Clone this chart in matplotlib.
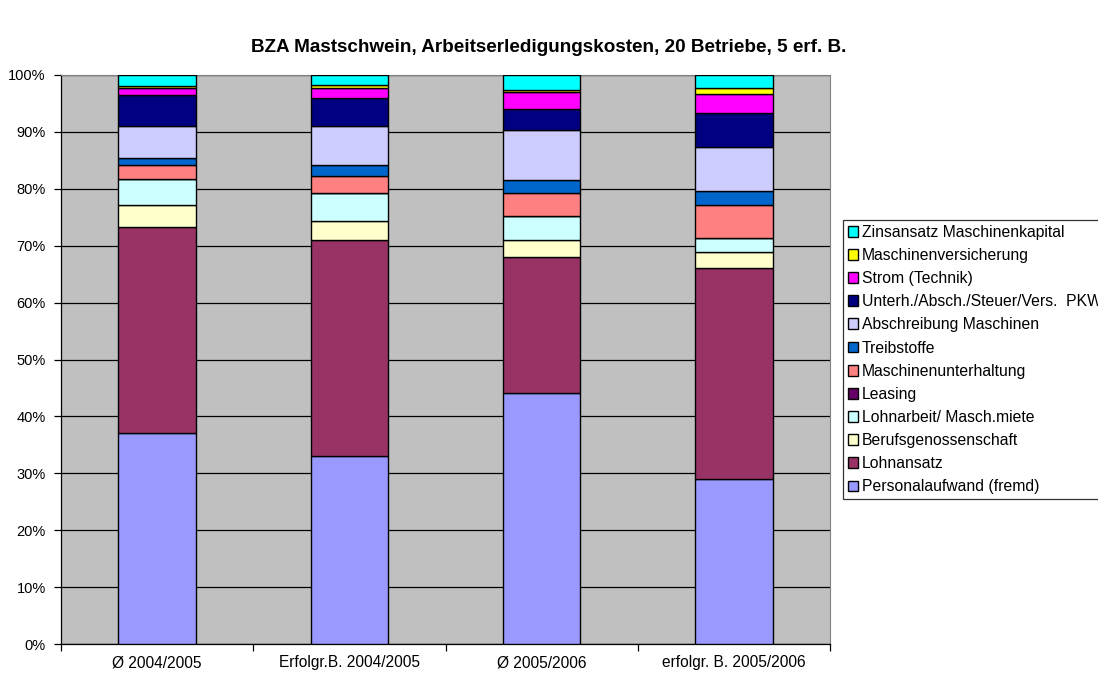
import numpy as np
import matplotlib.pyplot as plt

plt.rcParams['font.family'] = ['Liberation Sans', 'DejaVu Sans']

categories = ['Ø 2004/2005', 'Erfolgr.B. 2004/2005', 'Ø 2005/2006', 'erfolgr. B. 2005/2006']

# shares in percent, bottom to top
personal = [37.0, 33.1, 44.2, 29.0]
lohnansatz = [36.3, 38.0, 23.8, 37.0]
berufsgen = [3.8, 3.3, 3.0, 2.9]
lohnarbeit = [4.6, 4.9, 4.2, 2.5]
leasing = [0.0, 0.0, 0.0, 0.0]
unterhaltung = [2.5, 3.0, 4.1, 5.7]
treibstoffe = [1.3, 1.9, 2.2, 2.5]
abschreibung = [5.5, 7.0, 8.8, 7.8]
pkw = [5.4, 4.8, 3.7, 5.9]
strom = [1.4, 1.9, 3.1, 3.3]
versicherung = [0.3, 0.4, 0.3, 1.2]
zinsansatz = [1.9, 1.8, 2.6, 2.2]

series = [
    ('Personalaufwand (fremd)', personal, '#9999FF'),
    ('Lohnansatz', lohnansatz, '#993366'),
    ('Berufsgenossenschaft', berufsgen, '#FFFFCC'),
    ('Lohnarbeit/ Masch.miete', lohnarbeit, '#CCFFFF'),
    ('Leasing', leasing, '#660066'),
    ('Maschinenunterhaltung', unterhaltung, '#FF8080'),
    ('Treibstoffe', treibstoffe, '#0066CC'),
    ('Abschreibung Maschinen', abschreibung, '#CCCCFF'),
    ('Unterh./Absch./Steuer/Vers.  PKW', pkw, '#000080'),
    ('Strom (Technik)', strom, '#FF00FF'),
    ('Maschinenversicherung', versicherung, '#FFFF00'),
    ('Zinsansatz Maschinenkapital', zinsansatz, '#00FFFF'),
]

fig = plt.figure(figsize=(10.98, 6.75), dpi=100)
ax = fig.add_axes([61 / 1098, 31 / 675, 769 / 1098, 569 / 675])
ax.set_facecolor('#C0C0C0')

x = np.arange(len(categories))
totals = np.sum([s[1] for s in series], axis=0)
bottom = np.zeros(len(categories))
handles = []
for name, vals, color in series:
    vals = np.array(vals) / totals * 100
    h = ax.bar(x, vals, 0.403, bottom=bottom, color=color, edgecolor='black',
               linewidth=1.0, label=name, zorder=3)
    handles.append(h)
    bottom += vals

ax.set_xlim(-0.5, 3.5)
ax.set_ylim(0, 100)
ax.set_yticks(np.arange(0, 101, 10))
ax.set_yticklabels([f'{v}%' for v in range(0, 101, 10)], fontsize=10.5)
ax.yaxis.grid(True, color='black', linewidth=0.9, zorder=1)
ax.set_axisbelow(True)

ax.set_xticks(x)
ax.set_xticklabels(categories, fontsize=11.2)
ax.tick_params(axis='x', length=0, pad=8)
ax.set_xticks(np.arange(-0.5, 4.0, 1.0), minor=True)
ax.tick_params(axis='x', which='minor', length=5, color='black', width=0.9)
ax.tick_params(axis='y', length=5, color='black', width=0.9, pad=6)

for side in ['top', 'right']:
    ax.spines[side].set_color('#808080')
for side in ['left', 'bottom']:
    ax.spines[side].set_color('black')
    ax.spines[side].set_linewidth(0.9)

fig.text(0.5, 1 - 47 / 675, 'BZA Mastschwein, Arbeitserledigungskosten, 20 Betriebe, 5 erf. B.',
         ha='center', va='center', fontsize=13.6, fontweight='bold')

leg = fig.legend(handles[::-1], [s[0] for s in series][::-1],
                 loc='upper left', bbox_to_anchor=(843 / 1098, 1 - 220 / 675),
                 fontsize=11.3, frameon=True, fancybox=False, edgecolor='black',
                 handlelength=0.68, handleheight=0.68, handletextpad=0.2,
                 labelspacing=0.52, borderpad=0.3, borderaxespad=0)
leg.get_frame().set_linewidth(0.9)

fig.savefig('out.png', dpi=100)
